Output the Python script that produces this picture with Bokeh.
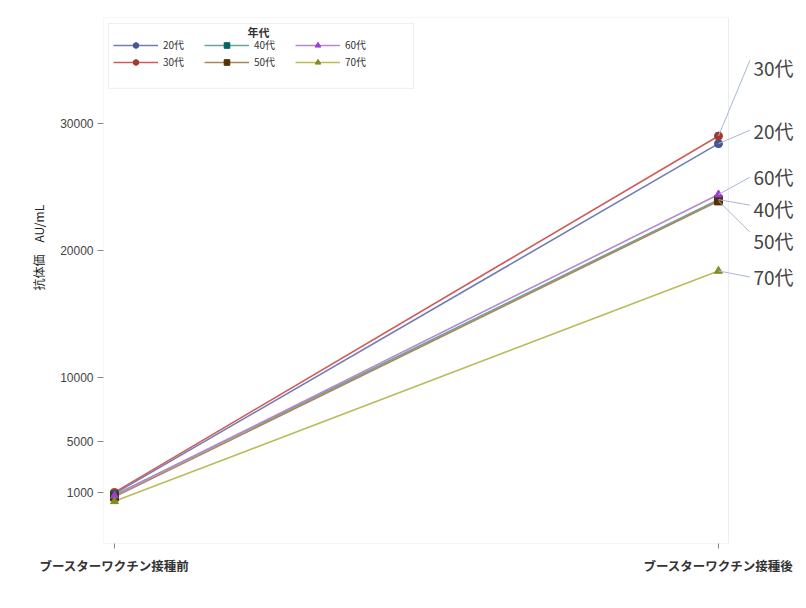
import math
from bokeh.plotting import figure
from bokeh.models import (Range1d, FixedTicker, Legend, LegendItem, BoxAnnotation,
                          Label, ColumnDataSource, Title)
from bokeh.embed import file_html
from bokeh.resources import INLINE
from bokeh.core.properties import value

# ---- data ----
timepoints = ["ブースターワクチン接種前", "ブースターワクチン接種後"]
groups = ["20代", "30代", "40代", "50代", "60代", "70代"]
before = [900, 1000, 800, 650, 750, 300]
after = [28400, 29000, 24000, 23900, 24400, 18400]
y_ticks = [1000, 5000, 10000, 20000, 30000]

# ---- styles ----
markers = ["circle", "circle", "square", "square", "triangle", "triangle"]
line_colors = ["#6F7EB3", "#D05B5B", "#66A5A0", "#A9865B", "#B689CD", "#BABC5C"]
marker_colors = ["#445694", "#A23A2E", "#01665E", "#543005", "#9D3CDB", "#7F8E1F"]

# ---- layout of the right-hand labels (data units) ----
label_y = [29450, 34390, 23336, 20827, 25844, 17926]
leader_end_y = [29450, 34939, 23570, 21454, 25766, 17926]
label_x = 1.058
leader_end_x = 1.052

X0, X1 = -0.0182, 1.1325
Y0, Y1 = -3014, 38310
FRAME_RIGHT = 1.0166

p = figure(width=798, height=600, output_backend="svg", toolbar_location=None,
           x_range=Range1d(X0, X1), y_range=Range1d(Y0, Y1),
           min_border_left=103, min_border_right=0, min_border_top=17, min_border_bottom=57)
p.outline_line_color = None
p.xgrid.visible = False
p.ygrid.visible = False
p.background_fill_color = "white"
p.border_fill_color = "white"

# frame box
p.add_layout(BoxAnnotation(left=X0, right=FRAME_RIGHT, bottom=Y0, top=Y1,
                           fill_alpha=0, line_color="#c4c4c4", line_width=1))

# axes
p.yaxis.ticker = FixedTicker(ticks=y_ticks)
p.yaxis.axis_line_color = None
p.yaxis.major_tick_line_color = "#888888"
p.yaxis.major_tick_out = 6
p.yaxis.major_tick_in = 0
p.yaxis.minor_tick_line_color = None
p.yaxis.major_label_standoff = 4
p.yaxis.major_label_text_font = "Liberation Sans"
p.yaxis.major_label_text_font_size = "12px"
p.yaxis.major_label_text_color = "#444444"
p.yaxis.formatter.use_scientific = False

p.xaxis.ticker = FixedTicker(ticks=[0, 1])
p.xaxis.major_label_overrides = {0: timepoints[0], 1: timepoints[1]}
p.xaxis.axis_line_color = None
p.xaxis.major_tick_line_color = "#888888"
p.xaxis.major_tick_out = 5
p.xaxis.major_tick_in = 0
p.xaxis.minor_tick_line_color = None
p.xaxis.major_label_standoff = 7
p.xaxis.major_label_text_font = "Noto Sans CJK JP"
p.xaxis.major_label_text_font_style = "bold"
p.xaxis.major_label_text_font_size = "12.5px"
p.xaxis.major_label_text_color = "#333333"

# y axis title (as a left-side title so it can be offset upward)
p.add_layout(Title(text="抗体価　AU/mL", align="left", offset=253,
                   text_font="Noto Sans CJK JP", text_font_size="12px",
                   text_font_style="normal", text_color="#222222", standoff=21), "left")

# lines and markers
line_rs, mark_rs = [], []
for i, g in enumerate(groups):
    src = ColumnDataSource(dict(x=[0, 1], y=[before[i], after[i]]))
    lr = p.line("x", "y", source=src, line_color=line_colors[i], line_width=1.6)
    line_rs.append((lr, src))
for i, g in enumerate(groups):
    src = line_rs[i][1]
    mr = p.scatter("x", "y", source=src, marker=markers[i], size=8,
                   fill_color=marker_colors[i], line_color=marker_colors[i])
    mark_rs.append(mr)

# leader lines and end labels
lead = ColumnDataSource(dict(x0=[1] * len(groups), y0=after,
                             x1=[leader_end_x] * len(groups), y1=leader_end_y))
p.segment("x0", "y0", "x1", "y1", source=lead, line_color="#a9b6d6", line_width=1)
lab = ColumnDataSource(dict(x=[label_x] * len(groups), y=label_y, text=groups))
p.text("x", "y", text="text", source=lab, text_align="left", text_baseline="middle",
       text_font=value("Noto Sans CJK JP"), text_font_size="19px", text_color="#444444")

# legend box + title
p.add_layout(BoxAnnotation(left=-0.0099, right=0.495, bottom=32744, top=37840,
                           fill_color="white", fill_alpha=1, line_color="#c8c8c8", line_width=1))
p.add_layout(Label(x=0.2384, y=37134, text="年代", text_align="center", text_baseline="middle",
                   text_font="Noto Sans CJK JP", text_font_style="bold",
                   text_font_size="11px", text_color="#333333"))

items = [LegendItem(label=g, renderers=[line_rs[i][0], mark_rs[i]]) for i, g in enumerate(groups)]
legend = Legend(items=items, location=(10, 474), orientation="vertical", nrows=2,
                margin=0, padding=0, spacing=2, glyph_width=45, glyph_height=14,
                label_height=14, label_width=39, label_standoff=5,
                label_text_font="Noto Sans CJK JP", label_text_font_size="10px",
                label_text_color="#333333", background_fill_alpha=0,
                border_line_color=None)
p.add_layout(legend)

open("out.html", "w").write(file_html(p, INLINE))
